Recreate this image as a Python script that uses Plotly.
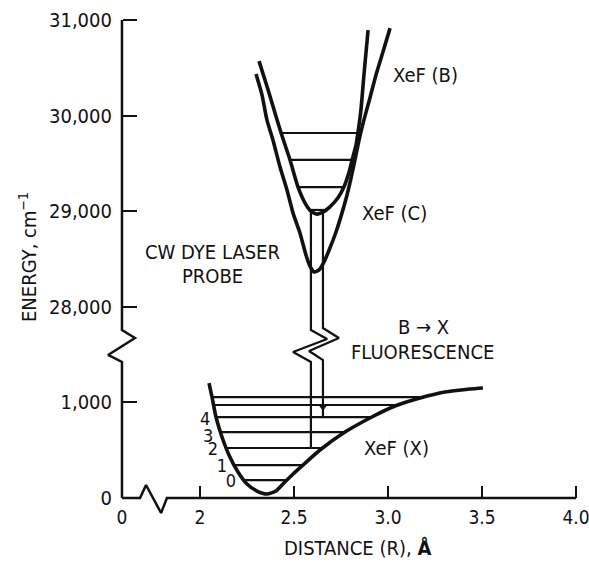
import numpy as np
import plotly.graph_objects as go

# ---------------- broken-axis conventions ----------------
X_ZERO_DISPLAY = 1.585      # display position of R = 0 on the broken distance axis
UPPER_OFFSET = 26000        # excited-state energies shifted down by this on the broken energy axis

# ---------------- data ----------------
# XeF (X) ground state, R in Angstrom, E in cm^-1
x_state_R = [2.048, 2.064, 2.085, 2.117, 2.154, 2.202, 2.250, 2.303, 2.356, 2.404, 2.441,
             2.495, 2.548, 2.638, 2.771, 2.904, 3.037, 3.170, 3.303, 3.436, 3.505]
x_state_E = [1203, 1056, 847, 638, 450, 272, 146, 73, 42, 73, 146,
             251, 345, 502, 690, 837, 962, 1046, 1109, 1140, 1151]
x_levels_E = [188, 345, 523, 690, 847, 973, 1056]
x_level_labels = ["0", "1", "2", "3", "4"]
x_label_R = [2.165, 2.117, 2.069, 2.043, 2.027]
x_label_E = [167, 324, 492, 638, 816]

# XeF (B) state
b_state_R = [2.314, 2.362, 2.410, 2.431, 2.479, 2.521, 2.559, 2.590, 2.622, 2.654, 2.691,
             2.734, 2.766, 2.793, 2.809, 2.830, 2.840, 2.856, 2.872, 2.894]
b_state_E = [30570, 30270, 29955, 29820, 29535, 29255, 29085, 29000, 28970, 28990, 29045,
             29140, 29255, 29410, 29535, 29695, 29820, 30060, 30425, 30895]
b_levels_E = [29013, 29253, 29536, 29818]

# XeF (C) state
c_state_R = [2.298, 2.330, 2.356, 2.388, 2.426, 2.463, 2.495, 2.532, 2.564, 2.585, 2.606,
             2.633, 2.660, 2.691, 2.723, 2.755, 2.782, 2.803, 2.824, 2.846, 2.872, 2.904,
             2.936, 2.973, 3.011]
c_state_E = [30435, 30215, 29955, 29745, 29460, 29220, 28980, 28770, 28540, 28425, 28365,
             28385, 28470, 28615, 28780, 28980, 29170, 29345, 29535, 29745, 29955, 30185,
             30425, 30665, 30915]

# transitions (vertical double line): probe and fluorescence
probe_R = 2.590
fluor_R = 2.654
transition_top_E = 29013          # B v=0
probe_bottom_E = 523              # X v=2
fluor_bottom_E = 847              # X v=4
fluor_arrow_E = 960
# break marks on the transition lines (display energy inside the axis gap)
probe_break_R = [2.590, 2.676, 2.495, 2.590]
probe_break_Et = [1757, 1663, 1527, 1423]
fluor_break_R = [2.654, 2.739, 2.580, 2.654]
fluor_break_Et = [1778, 1674, 1538, 1443]

# axis break marks (display units)
yaxis_break_R = [X_ZERO_DISPLAY, 1.654, 1.511, X_ZERO_DISPLAY]
yaxis_break_Et = [1757, 1674, 1496, 1423]
xaxis_break_R = [1.681, 1.713, 1.793, 1.824]
xaxis_break_Et = [0, 136, -157, 0]

energy_ticks = [0, 1000, 28000, 29000, 30000, 31000]
energy_tick_text = ["0", "1,000", "28,000", "29,000", "30,000", "31,000"]
distance_ticks = [0, 2.0, 2.5, 3.0, 3.5, 4.0]
distance_tick_text = ["0", "2", "2.5", "3.0", "3.5", "4.0"]


# ---------------- helpers ----------------
def dx(R):
    R = np.asarray(R, dtype=float)
    return np.where(R == 0, X_ZERO_DISPLAY, R)


def dy(E):
    E = np.asarray(E, dtype=float)
    return np.where(E > 20000, E - UPPER_OFFSET, E)


def crossings(Rs, Es, level):
    Rs = np.asarray(Rs); Es = np.asarray(Es)
    i = int(np.argmin(Es))
    lR, lE = Rs[:i + 1][::-1], Es[:i + 1][::-1]
    rR, rE = Rs[i:], Es[i:]
    return np.interp(level, lE, lR), np.interp(level, rE, rR)


def level_segments(Rs, Es, levels):
    xs, ys = [], []
    for L in levels:
        a, b = crossings(Rs, Es, L)
        xs += [a, b, None]
        ys += [float(dy(L)), float(dy(L)), None]
    return xs, ys


FONT = "DejaVu Sans Condensed, Liberation Sans Narrow, Arial Narrow, sans-serif"
INK = "#111111"
FS = 20

ML, MR, MT, MB = 106, 1, 10, 45
PLOT_W = 589 - ML - MR
PLOT_H = 565 - MT - MB
X_RANGE = [1.5, 1.5 + PLOT_W / 188.0]
Y_RANGE = [-230, -230 + PLOT_H / 0.0956]

fig = go.Figure()

# axes lines with break marks
fig.add_trace(go.Scatter(
    x=[X_ZERO_DISPLAY] + list(yaxis_break_R) + [X_ZERO_DISPLAY],
    y=[float(dy(31000))] + list(yaxis_break_Et) + [0],
    mode="lines", line=dict(color=INK, width=2.5), hoverinfo="skip"))
fig.add_trace(go.Scatter(
    x=[X_ZERO_DISPLAY] + list(xaxis_break_R) + [4.0],
    y=[0] + list(xaxis_break_Et) + [0],
    mode="lines", line=dict(color=INK, width=2.5), hoverinfo="skip"))

# potential curves
for Rs, Es in [(x_state_R, x_state_E), (b_state_R, b_state_E), (c_state_R, c_state_E)]:
    fig.add_trace(go.Scatter(x=Rs, y=dy(Es), mode="lines",
                             line=dict(color=INK, width=3.6, shape="spline", smoothing=0.6),
                             hoverinfo="skip"))

# vibrational levels
for Rs, Es, lv in [(x_state_R, x_state_E, x_levels_E), (b_state_R, b_state_E, b_levels_E)]:
    xs, ys = level_segments(Rs, Es, lv)
    fig.add_trace(go.Scatter(x=xs, y=ys, mode="lines", line=dict(color=INK, width=2.2), hoverinfo="skip"))

# transition lines with break marks
for R0, brR, brE, bottom in [(probe_R, probe_break_R, probe_break_Et, probe_bottom_E),
                              (fluor_R, fluor_break_R, fluor_break_Et, fluor_bottom_E)]:
    fig.add_trace(go.Scatter(
        x=[R0] + list(brR) + [R0],
        y=[float(dy(transition_top_E))] + list(brE) + [bottom],
        mode="lines", line=dict(color=INK, width=2.2), hoverinfo="skip"))
fig.add_trace(go.Scatter(x=[fluor_R], y=[fluor_arrow_E], mode="markers",
                         marker=dict(symbol="triangle-down", size=9, color=INK), hoverinfo="skip"))

# vibrational quantum numbers
fig.add_trace(go.Scatter(x=x_label_R, y=x_label_E, mode="text", text=x_level_labels,
                         textfont=dict(family=FONT, size=18, color=INK), hoverinfo="skip"))

annotations = []
texts = [
    ("XeF (B)", 3.197, 30425),
    ("XeF (C)", 3.032, 28981),
    ("CW DYE LASER", 2.069, 28573),
    ("PROBE", 2.069, 28322),
    ("B \u2192 X", 3.191, 27790),
    ("FLUORESCENCE", 3.186, 27527),
    ("XeF (X)", 3.043, 523),
]
for t, R, E in texts:
    annotations.append(dict(x=R, y=float(dy(E)), xref="x", yref="y", text=t, showarrow=False,
                            xanchor="center", yanchor="middle",
                            font=dict(family=FONT, size=FS, color=INK)))

annotations.append(dict(x=(28 - ML) / PLOT_W, y=(565 - MB - 257) / PLOT_H, xref="paper", yref="paper",
                        xanchor="center", yanchor="middle",
                        text="ENERGY, cm<sup>\u22121</sup>", textangle=-90, showarrow=False,
                        font=dict(family=FONT, size=FS, color=INK)))
annotations.append(dict(x=(357 - ML) / PLOT_W, y=(565 - MB - 548) / PLOT_H, xref="paper", yref="paper",
                        xanchor="center", yanchor="middle",
                        text="DISTANCE (R), <b>\u00c5</b>", showarrow=False,
                        font=dict(family=FONT, size=FS, color=INK)))

xpos = (0 - Y_RANGE[0]) / (Y_RANGE[1] - Y_RANGE[0])
ypos = (X_ZERO_DISPLAY - X_RANGE[0]) / (X_RANGE[1] - X_RANGE[0])

fig.update_layout(
    width=589, height=565,
    margin=dict(l=ML, r=MR, t=MT, b=MB, autoexpand=False),
    paper_bgcolor="white", plot_bgcolor="white",
    showlegend=False,
    annotations=annotations,
    xaxis=dict(range=X_RANGE, showgrid=False, zeroline=False, showline=False,
               anchor="free", position=xpos, automargin=False,
               tickmode="array", tickvals=list(dx(distance_ticks)), ticktext=distance_tick_text,
               ticks="inside", ticklen=12, tickwidth=2, tickcolor=INK,
               ticklabelstandoff=6, ticklabeloverflow="allow",
               tickfont=dict(family=FONT, size=19, color=INK)),
    yaxis=dict(range=Y_RANGE, showgrid=False, zeroline=False, showline=False,
               anchor="free", position=ypos, automargin=False,
               tickmode="array", tickvals=list(dy(energy_ticks)), ticktext=energy_tick_text,
               ticks="inside", ticklen=14, tickwidth=2, tickcolor=INK,
               ticklabelstandoff=10, ticklabeloverflow="allow",
               tickfont=dict(family=FONT, size=FS, color=INK)),
)

fig.write_html("out.html",
               config={"displayModeBar": False},
               post_script="document.body.style.margin='0';document.body.style.overflow='hidden';")
